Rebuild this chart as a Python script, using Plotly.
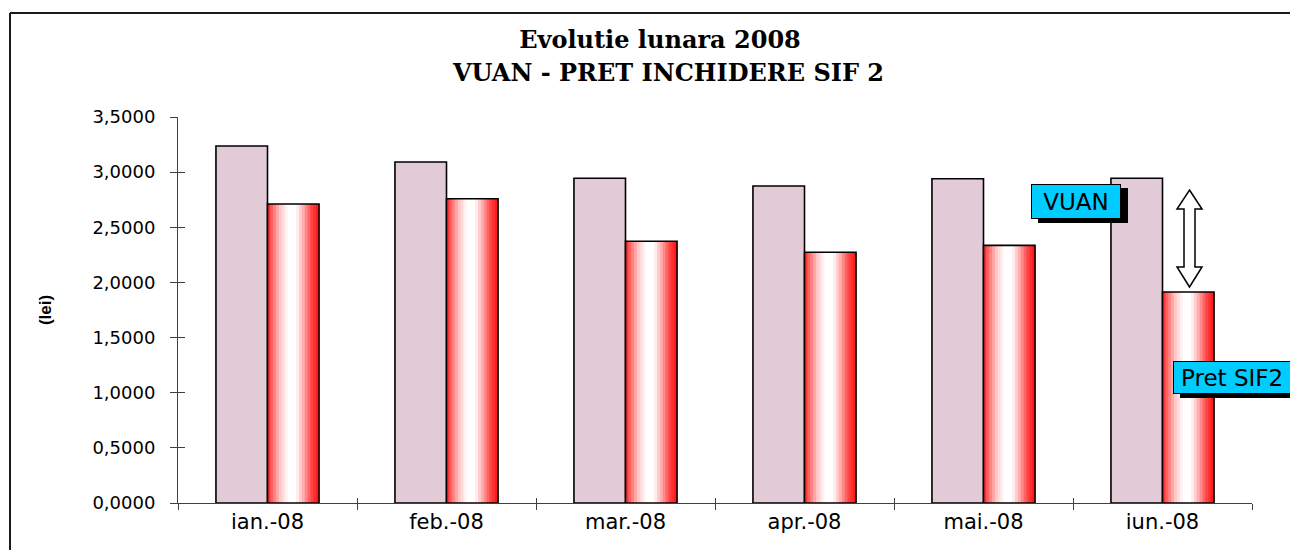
import plotly.graph_objects as go

# data
months = ["ian.-08", "feb.-08", "mar.-08", "apr.-08", "mai.-08", "iun.-08"]
vuan = [3.237, 3.092, 2.944, 2.874, 2.940, 2.944]
pret_sif2 = [2.711, 2.759, 2.373, 2.273, 2.336, 1.913]
y_ticks = [0, 0.5, 1.0, 1.5, 2.0, 2.5, 3.0, 3.5]
title_lines = ["Evolutie lunara 2008", "VUAN - PRET INCHIDERE SIF 2"]

# the page puts the figure 8px in from the corner; keep it inside the window
OFF = 8
W, H = 1298 - 2 * OFF, 558 - 2 * OFF
L, R, T = 178 - OFF, (W + OFF) - 1252, 117 - OFF
B = (H + OFF) - 503
PW = W - L - R
PH = H - T - B


def px_x(x):
    # screen pixel x -> paper fraction
    return (x - OFF - L) / PW


def px_y(y):
    # screen pixel y -> paper fraction
    return (H - B - (y - OFF)) / PH


BAR_W = 0.288
N_SLICES = 18
# red -> white -> red gradient of the SIF2 bars
grad = [(0.0, (255, 25, 25)), (0.1, (255, 110, 110)), (0.25, (255, 200, 200)),
        (0.4, (255, 255, 255)), (0.55, (255, 255, 255)), (0.7, (255, 170, 170)),
        (0.85, (255, 70, 70)), (1.0, (255, 15, 15))]


def grad_color(t):
    for (t0, c0), (t1, c1) in zip(grad[:-1], grad[1:]):
        if t0 <= t <= t1:
            f = (t - t0) / (t1 - t0) if t1 > t0 else 0
            c = [round(a + (b - a) * f) for a, b in zip(c0, c1)]
            return f"rgb({c[0]},{c[1]},{c[2]})"
    return "rgb(255,0,0)"


fig = go.Figure()

# VUAN bars
fig.add_trace(go.Bar(
    x=months, y=vuan, name="VUAN",
    width=BAR_W, offset=-BAR_W,
    marker=dict(color="#E3CAD7", line=dict(color="black", width=1.6)),
))

# Pret SIF2 bars, drawn as thin slices to get the gradient
step = BAR_W / N_SLICES
for i in range(N_SLICES):
    off = i * step
    fig.add_trace(go.Bar(
        x=months, y=pret_sif2, name="Pret SIF2",
        width=min(step * 1.5, BAR_W - off), offset=off,
        marker=dict(color=grad_color((i + 0.5) / N_SLICES), line=dict(width=0)),
        hoverinfo="skip" if i else None,
    ))
# outline of the SIF2 bars
fig.add_trace(go.Bar(
    x=months, y=pret_sif2, width=BAR_W, offset=0,
    marker=dict(color="rgba(0,0,0,0)", line=dict(color="black", width=1.6)),
    hoverinfo="skip",
))

# invisible trace for the overlay axes (inner half of the crossing ticks)
fig.add_trace(go.Scatter(
    x=months, y=vuan, xaxis="x2", yaxis="y2", mode="markers",
    marker=dict(opacity=0), hoverinfo="skip",
))

axis_col = "#404040"
title_font = dict(family="DejaVu Serif", size=24, color="black")
fig.update_layout(
    width=W, height=H,
    margin=dict(l=L, r=R, t=T, b=B),
    paper_bgcolor="white", plot_bgcolor="white",
    barmode="overlay", showlegend=False,
    separators=",.",
    title=dict(
        text="<b>" + title_lines[0] + "</b>",
        x=(660 - OFF) / W, xanchor="center", xref="container",
        y=1 - (40 - OFF) / H, yanchor="middle", yref="container",
        font=title_font,
    ),
    xaxis=dict(
        type="category", range=[-0.5, 5.5],
        showline=True, linecolor=axis_col, linewidth=1,
        ticks="outside", ticklen=6, tickcolor=axis_col, tickson="boundaries",
        showgrid=False, zeroline=False,
        tickfont=dict(family="DejaVu Sans", size=21, color="black"),
    ),
    yaxis=dict(
        range=[0, 3.5], tickvals=y_ticks, tickformat=".4f",
        showline=True, linecolor=axis_col, linewidth=1,
        ticks="outside", ticklen=7, tickcolor=axis_col,
        showgrid=False, zeroline=False,
        tickfont=dict(family="DejaVu Sans", size=18, color="black"),
        ticklabelstandoff=11,
        title=dict(text="<b>(lei)</b>", standoff=36,
                   font=dict(family="Liberation Sans", size=17, color="black")),
    ),
    xaxis2=dict(
        type="category", range=[-0.5, 5.5], overlaying="x", anchor="y2",
        ticks="inside", ticklen=5, tickcolor=axis_col, tickson="boundaries",
        showticklabels=False, showline=False, showgrid=False, zeroline=False,
    ),
    yaxis2=dict(
        range=[0, 3.5], tickvals=y_ticks, overlaying="y", anchor="x2", side="left",
        ticks="inside", ticklen=7, tickcolor=axis_col,
        showticklabels=False, showline=False, showgrid=False, zeroline=False,
    ),
)

# second title line
fig.add_annotation(text="<b>" + title_lines[1] + "</b>", xref="paper", yref="paper",
                   x=px_x(668), y=px_y(72), xanchor="center", yanchor="middle",
                   showarrow=False, font=title_font)

# outer chart frame (top and left edges; the rest runs off the picture)
frame = dict(color="#1a1a1a", width=2)
fig.add_shape(type="line", xref="paper", yref="paper",
              x0=px_x(10), x1=px_x(1310), y0=px_y(13), y1=px_y(13), line=frame)
fig.add_shape(type="line", xref="paper", yref="paper",
              x0=px_x(10), x1=px_x(10), y0=px_y(13), y1=px_y(570), line=frame)

# double-headed arrow between VUAN and SIF2 of the last month
cx, top, bot = 1189.5, 190, 287
hb_t, hb_b, hw, sw = 209, 267, 12.5, 5.5
pts = [(cx, top), (cx + hw, hb_t), (cx + sw, hb_t), (cx + sw, hb_b), (cx + hw, hb_b),
       (cx, bot), (cx - hw, hb_b), (cx - sw, hb_b), (cx - sw, hb_t), (cx - hw, hb_t)]
path = "M " + " L ".join(f"{px_x(x):.5f},{px_y(y):.5f}" for x, y in pts) + " Z"
fig.add_shape(type="path", xref="paper", yref="paper", path=path,
              fillcolor="white", line=dict(color="black", width=1.5))

label_font = dict(family="DejaVu Sans", size=23, color="black")


def label_box(text, x0, x1, y0, y1, text_x=None):
    cxp, cyp = (x0 + x1) / 2, (y0 + y1) / 2
    common = dict(xref="paper", yref="paper", x=px_x(cxp), y=px_y(cyp),
                  xanchor="center", yanchor="middle", showarrow=False,
                  width=x1 - x0 - 2, height=y1 - y0 - 2, borderpad=0, borderwidth=1,
                  font=label_font)
    # drop shadow
    fig.add_annotation(text="", bgcolor="black", bordercolor="black",
                       xshift=7, yshift=-4, **common)
    if text_x is None:
        fig.add_annotation(text=text, bgcolor="#00CCFF", bordercolor="black", **common)
    else:
        fig.add_annotation(text="", bgcolor="#00CCFF", bordercolor="black", **common)
        fig.add_annotation(text=text, xref="paper", yref="paper",
                           x=px_x(text_x), y=px_y(cyp), xanchor="left",
                           yanchor="middle", showarrow=False, font=label_font)


label_box("VUAN", 1031, 1121, 184, 219)
label_box("Pret SIF2", 1173, 1330, 361, 394, text_x=1179)

fig.write_html("out.html")
